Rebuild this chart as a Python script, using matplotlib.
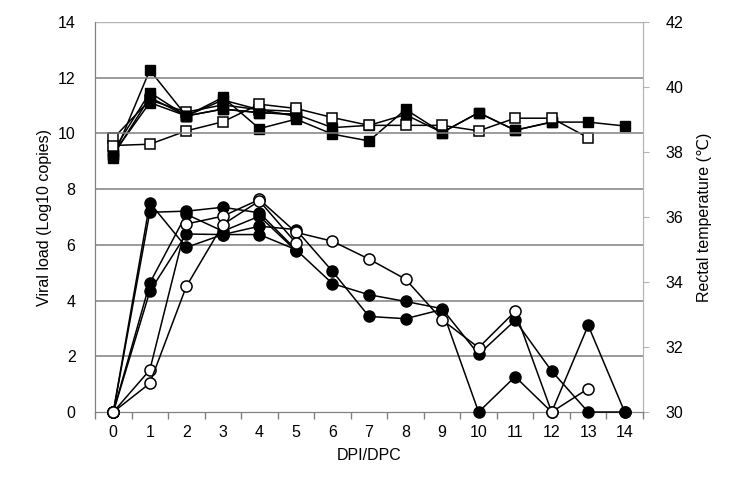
import numpy as np
import matplotlib
matplotlib.use('Agg')
import matplotlib.pyplot as plt

plt.rcParams['font.family'] = ['Liberation Sans', 'DejaVu Sans']

days = list(range(15))

# viral load (Log10 copies), circles
vl_open = [
    [0, 1.51, 6.75, 7.03, 7.63, 6.45, 6.13, 5.49, 4.77, 3.31, 2.31, 3.61, 0, 0.84],
    [0, 1.03, 4.51, 6.73, 7.58, 6.07],
]
vl_filled = [
    [0, 7.51, 5.91, 6.37, 6.67, 6.55, 5.05, 3.43, 3.35, 3.68, 0, 1.27, 0, 3.11, 0],
    [0, 7.17, 7.21, 7.35, 7.15, 5.83, 4.61, 4.21, 3.97, 3.71, 2.07, 3.29, 1.47, 0, 0],
    [0, 4.63, 7.10, 6.49, 7.03, 5.79],
    [0, 4.33, 6.39, 6.37, 6.37, 5.83],
]

# rectal temperature (C), squares
t_open = [
    [38.20, 38.24, 38.65, 38.93, 39.47, 39.34, 39.06, 38.82, 38.82, 38.82, 38.65, 39.04, 39.04, 38.44],
    [38.42, 39.60, 39.23, 39.45, 39.30, 39.25],
]
t_filled = [
    [37.83, 40.52, 39.11, 39.68, 38.72, 39.01, 38.55, 38.34, 39.31, 38.60, 39.21, 38.67, 38.92, 38.92, 38.80],
    [38.03, 39.83, 39.11, 39.32, 39.21, 39.16, 38.75, 38.82, 39.15, 38.60, 39.21, 38.67, 38.92],
    [37.90, 39.68, 39.11, 39.60, 39.30, 39.10],
    [37.95, 39.52, 39.11, 39.32, 39.21, 39.16],
]

fig = plt.figure(figsize=(7.32, 4.78), dpi=100)
ax = fig.add_axes([0.1298, 0.138, 0.7486, 0.816])
ax2 = ax.twinx()

grey = '#808080'
light = '#b4b4b4'

# temperature (right axis)
for s in t_open[1:]:
    ax2.plot(days[:len(s)], s, '-s', color='black', lw=1.1, ms=7.5,
             mfc='white', mec='black', mew=1.1, zorder=3)
for s in t_filled:
    ax2.plot(days[:len(s)], s, '-s', color='black', lw=1.1, ms=7.5,
             mfc='black', mec='black', zorder=3)
for s in t_open[:1]:
    ax2.plot(days[:len(s)], s, '-s', color='black', lw=1.1, ms=7.5,
             mfc='white', mec='black', mew=1.1, zorder=4)

# viral load (left axis)
for s in vl_filled:
    ax.plot(days[:len(s)], s, '-o', color='black', lw=1.1, ms=8,
            mfc='black', mec='black', zorder=3, clip_on=False)
for s in vl_open:
    ax.plot(days[:len(s)], s, '-o', color='black', lw=1.1, ms=8,
            mfc='white', mec='black', mew=1.1, zorder=4, clip_on=False)

ax.set_xlim(-0.5, 14.5)
ax.set_ylim(0, 14)
ax2.set_ylim(30, 42)

ax.set_yticks(range(0, 15, 2))
ax2.set_yticks(range(30, 43, 2))
ax.set_xticks(days)
ax.set_xticks(np.arange(-0.5, 15, 1), minor=True)
ax.tick_params(axis='x', which='major', length=0, pad=9, labelsize=11.5)
ax.tick_params(axis='x', which='minor', length=5, color=grey, width=1)
ax.tick_params(axis='y', length=0, pad=14, labelsize=11.5)
ax2.tick_params(axis='y', length=4, color=light, width=0.8, pad=12, labelsize=11.5)

for y in range(2, 14, 2):
    ax.axhline(y, color=grey, lw=1.1, zorder=1)
ax.axhline(14, color=light, lw=1.0, zorder=1)

for a in (ax, ax2):
    a.spines['top'].set_visible(False)
    a.spines['left'].set_color(grey)
    a.spines['bottom'].set_color(grey)
    a.spines['right'].set_color(light)
    a.patch.set_visible(False)
ax.set_zorder(ax2.get_zorder() + 1)

ax.set_xlabel('DPI/DPC', fontsize=11.5, labelpad=6)
ax.set_ylabel('Viral load (Log10 copies)', fontsize=11.5, labelpad=4)
ax2.set_ylabel('Rectal temperature (\u2103)', fontsize=11.5, labelpad=10)

fig.savefig('out.png', dpi=100)
